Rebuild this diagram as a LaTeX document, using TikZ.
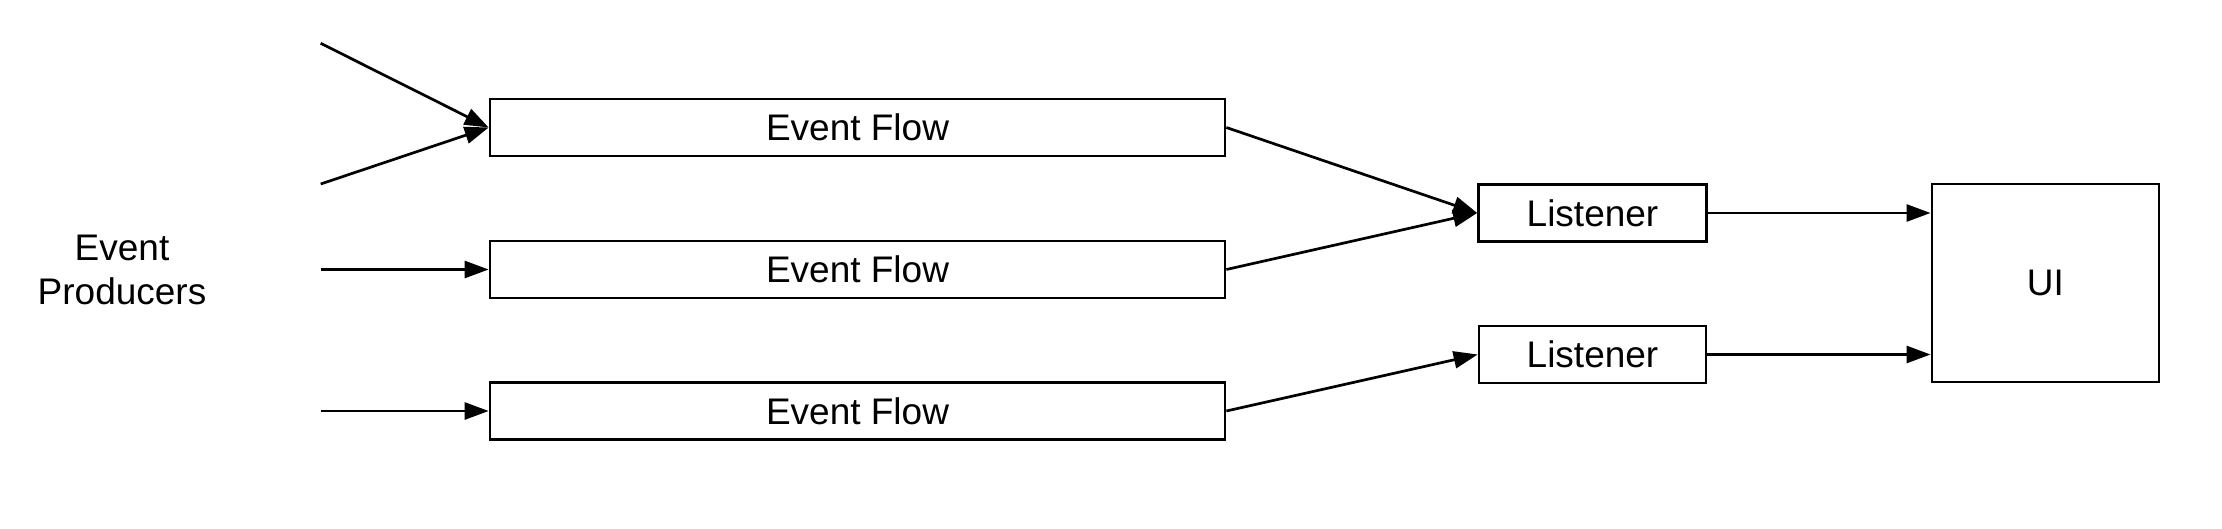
\documentclass[tikz,border=0pt]{standalone}
\usepackage{fontspec}
\setmainfont{Liberation Sans}
\usetikzlibrary{arrows.meta}
\begin{document}
\begin{tikzpicture}[x=1pt,y=-1pt,
  box/.style={draw=black,line width=2.7pt,inner sep=0pt,fill=white,
    font=\fontsize{37}{44}\selectfont},
  conn/.style={line width=2.7pt,-{Triangle[length=24pt,width=17pt]}},
  lbl/.style={font=\fontsize{37}{44}\selectfont,align=center,inner sep=0pt}]
\useasboundingbox[fill=white] (0,0) rectangle (2222,528);
\node[lbl] (prod) at (122,270) {Event\\Producers};
\node[box,minimum width=735pt,minimum height=57pt] (f1) at (857.5,127.5) {Event Flow};
\node[box,minimum width=735pt,minimum height=57pt] (f2) at (857.5,269.5) {Event Flow};
\node[box,minimum width=735pt,minimum height=57pt] (f3) at (857.5,411) {Event Flow};
\node[box,minimum width=228pt,minimum height=57pt] (l1) at (1592.5,213) {Listener};
\node[box,minimum width=227pt,minimum height=57pt] (l2) at (1592.5,354.5) {Listener};
\node[box,minimum width=227pt,minimum height=198pt] (ui) at (2045.4,283) {UI};
\coordinate (p1) at (320.7,43.3);
\coordinate (p2) at (320.7,184);
\coordinate (p3) at (320.7,269.5);
\coordinate (p4) at (320.7,411);
\draw[conn] (p1) -- (f1.west);
\draw[conn] (p2) -- (f1.west);
\draw[conn] (p3) -- (f2.west);
\draw[conn] (p4) -- (f3.west);
\draw[conn] (f1.east) -- (l1.west);
\draw[conn] (f2.east) -- (l1.west);
\draw[conn] (f3.east) -- (l2.west);
\draw[conn] (l1.east) -- (ui.west |- l1.east);
\draw[conn] (l2.east) -- (ui.west |- l2.east);
\end{tikzpicture}
\end{document}
